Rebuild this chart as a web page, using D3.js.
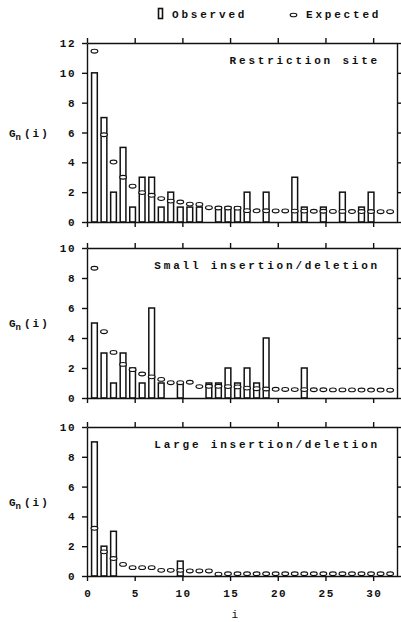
<!DOCTYPE html>
<html>
<head>
<meta charset="utf-8">
<script src="https://cdn.jsdelivr.net/npm/d3@7"></script>
<style>
  body { margin: 0; background: #fff; }
  svg { display: block; }
  .lab { font-family: "Liberation Mono", "DejaVu Sans Mono", monospace; font-weight: bold; font-size: 11px; fill: #111; }
  .axis path, .axis line { stroke: #111; stroke-width: 1.4; }
  .axis text { font-family: "Liberation Mono", "DejaVu Sans Mono", monospace; font-weight: bold; font-size: 11px; fill: #111; }
</style>
</head>
<body>
<svg id="chart"></svg>
<script>
const width = 401;
const height = 622;

// i = 1..32
const positions = d3.range(1, 33);

const titles = ['Restriction site', 'Small insertion/deletion', 'Large insertion/deletion'];
const yMaxes = [12, 10, 10];

const observedRestriction = [10, 7, 2, 5, 1, 3, 3, 1, 2, 1, 1, 1, 0, 1, 1, 1, 2, 0, 2, 0, 0, 3, 1, 0, 1, 0, 2, 0, 1, 2, 0, 0];
const expectedRestriction = [11.45, 5.85, 4.02, 3.0, 2.4, 1.97, 1.79, 1.57, 1.4, 1.34, 1.2, 1.18, 0.96, 0.94, 0.94, 0.93,
  0.76, 0.75, 0.75, 0.74, 0.74, 0.73, 0.73, 0.72, 0.72, 0.71, 0.71, 0.7, 0.7, 0.7, 0.69, 0.69];

const observedSmall = [5, 3, 1, 3, 2, 1, 6, 1, 0, 1, 0, 0, 1, 1, 2, 1, 2, 1, 4, 0, 0, 0, 2, 0, 0, 0, 0, 0, 0, 0, 0, 0];
const expectedSmall = [8.65, 4.42, 3.04, 2.24, 1.89, 1.6, 1.41, 1.24, 1.02, 1.02, 1.05, 0.76, 0.78, 0.78, 0.76, 0.74,
  0.66, 0.62, 0.6, 0.58, 0.57, 0.56, 0.56, 0.55, 0.55, 0.54, 0.54, 0.54, 0.53, 0.53, 0.53, 0.52];

const observedLarge = [9, 2, 3, 0, 0, 0, 0, 0, 0, 1, 0, 0, 0, 0, 0, 0, 0, 0, 0, 0, 0, 0, 0, 0, 0, 0, 0, 0, 0, 0, 0, 0];
const expectedLarge = [3.2, 1.62, 1.17, 0.78, 0.56, 0.56, 0.56, 0.38, 0.38, 0.38, 0.34, 0.34, 0.34, 0.12, 0.15, 0.15,
  0.15, 0.15, 0.15, 0.15, 0.15, 0.15, 0.15, 0.15, 0.15, 0.15, 0.15, 0.15, 0.15, 0.15, 0.15, 0.15];

const xTicks = [0, 5, 10, 15, 20, 25, 30];

const observedSets = [observedRestriction, observedSmall, observedLarge];
const expectedSets = [expectedRestriction, expectedSmall, expectedLarge];

const panels = [
  { top: 43, bottom: 222 },
  { top: 248, bottom: 398 },
  { top: 427, bottom: 576 }
];

const left = 87;
const right = 397;

const svg = d3.select('#chart')
  .attr('width', width)
  .attr('height', height);

const xScale = d3.scaleLinear()
  .domain([0, 32.5])
  .range([left, right]);

const barOffset = 0.22;
const barWidth = xScale(0.6) - xScale(0);

// legend
svg.append('rect')
  .attr('x', 158.5).attr('y', 8.5)
  .attr('width', 4).attr('height', 10)
  .attr('fill', '#fff').attr('stroke', '#111').attr('stroke-width', 1.6);
svg.append('text').attr('class', 'lab')
  .attr('x', 172).attr('y', 18)
  .style('letter-spacing', '2.8px')
  .text('Observed');
svg.append('ellipse')
  .attr('cx', 293.5).attr('cy', 15)
  .attr('rx', 3.3).attr('ry', 1.8)
  .attr('fill', '#fff').attr('stroke', '#111').attr('stroke-width', 1.1);
svg.append('text').attr('class', 'lab')
  .attr('x', 306).attr('y', 18)
  .style('letter-spacing', '2.8px')
  .text('Expected');

panels.forEach((p, n) => {
  const yScale = d3.scaleLinear()
    .domain([0, yMaxes[n]])
    .range([p.bottom, p.top]);
  const yTicks = d3.range(0, yMaxes[n] + 1, 2);

  const g = svg.append('g');

  // bars
  g.selectAll('rect.bar')
    .data(positions.map((k, j) => [k, observedSets[n][j]]).filter(d => d[1] > 0))
    .enter()
    .append('rect')
    .attr('class', 'bar')
    .attr('x', d => xScale(d[0] - barOffset) - barWidth / 2)
    .attr('width', barWidth)
    .attr('y', d => yScale(d[1]))
    .attr('height', d => yScale(0) - yScale(d[1]))
    .attr('fill', '#fff')
    .attr('stroke', '#111')
    .attr('stroke-width', 1.5);

  // expected markers
  g.selectAll('ellipse.exp')
    .data(positions.map((k, j) => [k, expectedSets[n][j]]))
    .enter()
    .append('ellipse')
    .attr('class', 'exp')
    .attr('cx', d => xScale(d[0] - barOffset))
    .attr('cy', d => yScale(d[1]))
    .attr('rx', 3.4)
    .attr('ry', 1.9)
    .attr('fill', '#fff')
    .attr('stroke', '#111')
    .attr('stroke-width', 1.1);

  // axes
  g.append('g').attr('class', 'axis')
    .attr('transform', 'translate(' + left + ',0)')
    .call(d3.axisLeft(yScale).tickValues(yTicks).tickSize(5).tickSizeOuter(0).tickPadding(6))
    .selectAll('text').style('letter-spacing', '1.5px');

  g.append('g').attr('class', 'axis')
    .attr('transform', 'translate(' + right + ',0)')
    .call(d3.axisRight(yScale).tickValues(yTicks).tickSize(5).tickSizeOuter(0).tickFormat(''));

  g.append('g').attr('class', 'axis')
    .attr('transform', 'translate(0,' + p.top + ')')
    .call(d3.axisTop(xScale).tickValues(xTicks).tickSize(5).tickSizeOuter(0).tickFormat(''));

  const bottomAxis = g.append('g').attr('class', 'axis')
    .attr('transform', 'translate(0,' + p.bottom + ')')
    .call(d3.axisBottom(xScale).tickValues(xTicks).tickSize(5).tickSizeOuter(0).tickPadding(8)
      .tickFormat(n === 2 ? d3.format('d') : ''));
  bottomAxis.selectAll('text').style('letter-spacing', '1.5px').attr('dx', '0.7px');

  // title
  g.append('text').attr('class', 'lab')
    .attr('x', 380).attr('y', p.top + 21)
    .attr('text-anchor', 'end')
    .style('letter-spacing', '2.8px')
    .text(titles[n]);

  // y label G_n(i)
  const yl = g.append('text').attr('class', 'lab')
    .attr('x', 9).attr('y', (p.top + p.bottom) / 2 + 4)
    .style('font-size', '11px');
  yl.append('tspan').text('G');
  yl.append('tspan').attr('dy', 3).style('font-size', '9px').text('n');
  yl.append('tspan').attr('dy', -3).attr('dx', 3).style('letter-spacing', '2px').text('(i)');
});

// x label
svg.append('text').attr('class', 'lab')
  .attr('x', xScale(15.5)).attr('y', 618)
  .attr('text-anchor', 'middle')
  .style('font-weight', 'normal')
  .text('i');
</script>
</body>
</html>
